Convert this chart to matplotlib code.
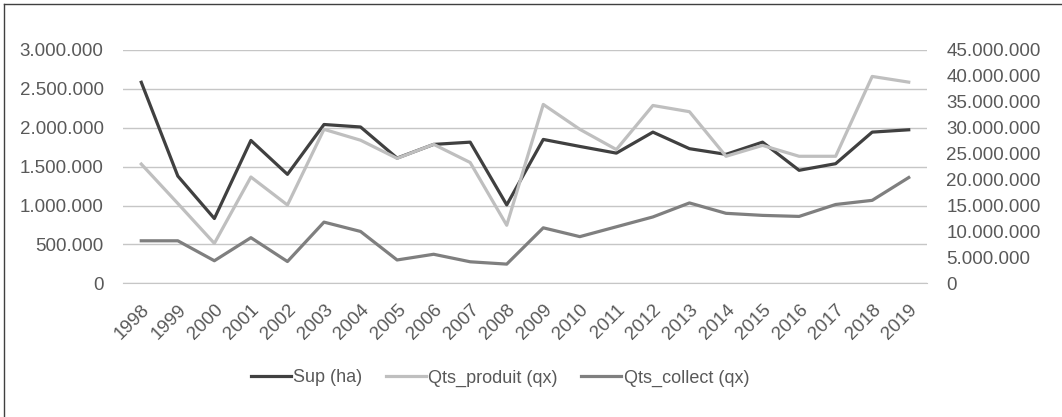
import numpy as np
import matplotlib
matplotlib.use("Agg")
import matplotlib.pyplot as plt
from matplotlib.lines import Line2D
from matplotlib.ticker import FuncFormatter, MultipleLocator

plt.rcParams['font.family'] = ['Liberation Sans', 'DejaVu Sans']

# data
years = [str(y) for y in range(1998, 2020)]
sup_ha = [2585000, 1379000, 833000, 1837000, 1401000, 2042000, 2010000, 1610000,
          1786000, 1815000, 1008000, 1850000, 1760000, 1674000, 1944000, 1731000,
          1658000, 1815000, 1453000, 1538000, 1944000, 1974000]
qts_produit = [23000000, 15400000, 7700000, 20500000, 15100000, 29700000, 27600000, 24100000,
               26800000, 23300000, 11200000, 34500000, 29700000, 25800000, 34300000, 33100000,
               24500000, 26600000, 24500000, 24500000, 39900000, 38800000]
qts_collect = [8200000, 8200000, 4350000, 8800000, 4200000, 11800000, 10000000, 4500000,
               5600000, 4150000, 3700000, 10700000, 9000000, 10900000, 12800000, 15500000,
               13500000, 13100000, 12900000, 15200000, 16000000, 20400000]

txt = '#595959'
grid = '#c6c6c6'

def dots(v, pos):
    return f"{v:,.0f}".replace(',', '.')

fig = plt.figure(figsize=(10.62, 4.17), dpi=100)
ax = fig.add_axes([123 / 1062, 1 - 283.3 / 417, 804 / 1062, 233.3 / 417])
ax2 = ax.twinx()

x = np.arange(len(years))
ax.plot(x, sup_ha, color='#404040', lw=2.3, label='Sup (ha)', zorder=3)
ax2.plot(x, qts_produit, color='#bfbfbf', lw=2.3, label='Qts_produit (qx)')
ax2.plot(x, qts_collect, color='#7f7f7f', lw=2.3, label='Qts_collect (qx)')

ax.set_xlim(-0.5, len(years) - 0.5)
ax.set_ylim(0, 3000000)
ax2.set_ylim(0, 45000000)
ax.yaxis.set_major_locator(MultipleLocator(500000))
ax2.yaxis.set_major_locator(MultipleLocator(5000000))
ax.yaxis.set_major_formatter(FuncFormatter(dots))
ax2.yaxis.set_major_formatter(FuncFormatter(dots))
ax.grid(axis='y', color=grid, lw=1)
ax.set_axisbelow(True)

for a in (ax, ax2):
    for s in a.spines.values():
        s.set_visible(False)
ax.spines['bottom'].set_visible(True)
ax.spines['bottom'].set_color(grid)

ax.set_xticks(x)
ax.set_xticklabels(years, rotation=45, ha='right', rotation_mode='anchor')
ax.tick_params(axis='x', length=0, pad=13, labelsize=13.5, labelcolor=txt)
ax.tick_params(axis='y', length=0, pad=14, labelsize=13.5, labelcolor=txt)
ax2.tick_params(axis='y', length=0, pad=14, labelsize=13.5, labelcolor=txt)

h1, l1 = ax.get_legend_handles_labels()
h2, l2 = ax2.get_legend_handles_labels()
fig.legend(h1 + h2, l1 + l2, loc='center', bbox_to_anchor=(500 / 1062, 1 - 378 / 417),
           ncol=3, frameon=False, fontsize=13, labelcolor=txt,
           handlelength=2.2, handletextpad=0.15, columnspacing=1.3)

# chart border (left and top visible)
fig.add_artist(Line2D([3.5 / 1062, 3.5 / 1062], [0, 1 - 3.5 / 417], color='#404040', lw=1))
fig.add_artist(Line2D([3.5 / 1062, 1], [1 - 3.5 / 417, 1 - 3.5 / 417], color='#404040', lw=1))

fig.savefig('out.png', dpi=100)
